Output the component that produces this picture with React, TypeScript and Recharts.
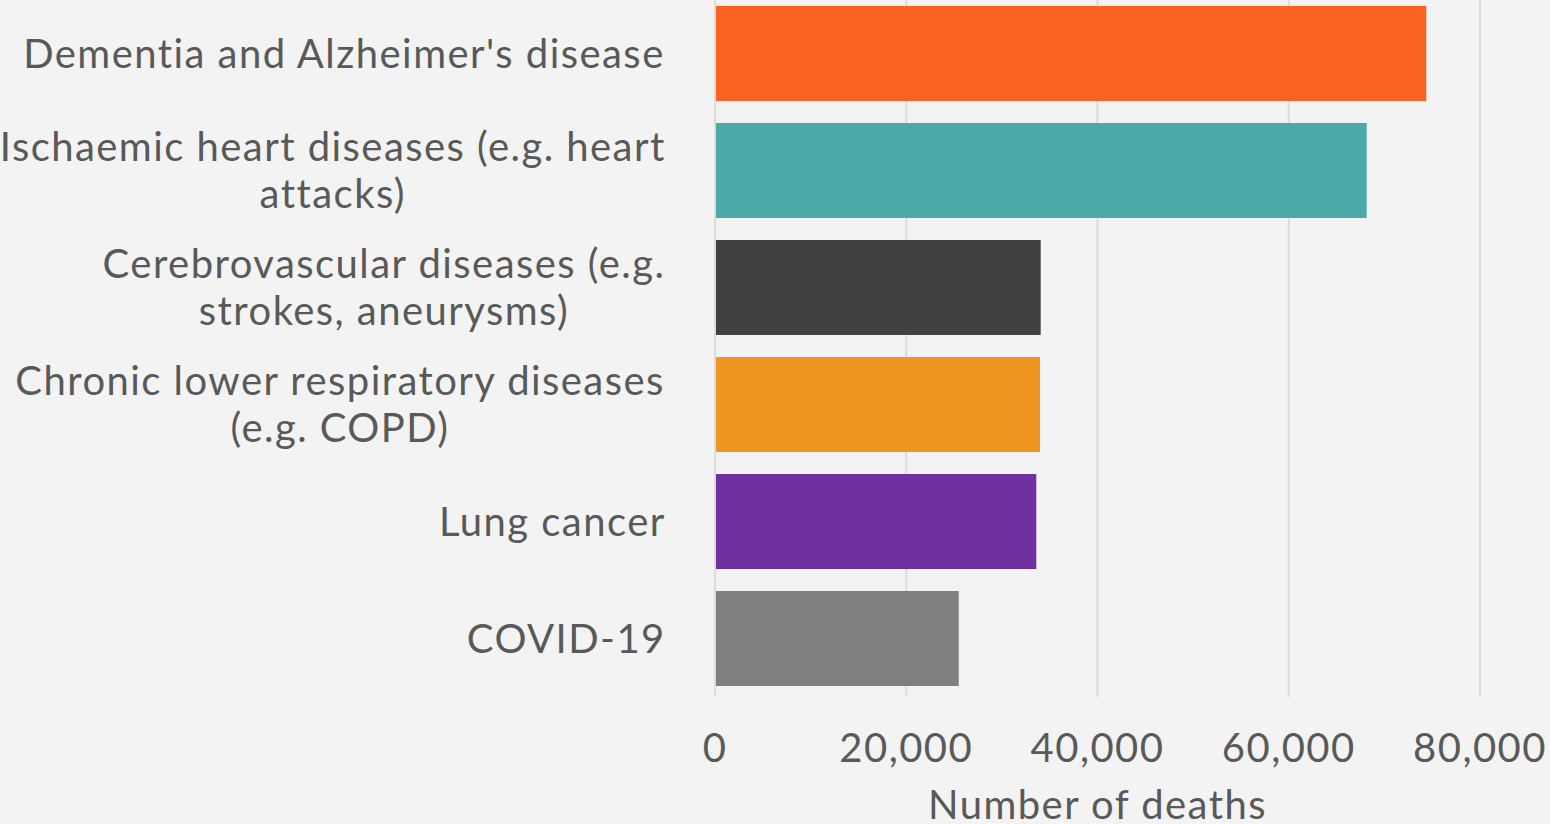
import React from "react";
import { BarChart, Bar, XAxis, YAxis, CartesianGrid, Cell, Label } from "recharts";

const categories = [
  "Dementia and Alzheimer's disease",
  "Ischaemic heart diseases (e.g. heart attacks)",
  "Cerebrovascular diseases (e.g. strokes, aneurysms)",
  "Chronic lower respiratory diseases (e.g. COPD)",
  "Lung cancer",
  "COVID-19",
];
const categoryLines = [
  ["Dementia and Alzheimer's disease"],
  ["Ischaemic heart diseases (e.g. heart", "attacks)"],
  ["Cerebrovascular diseases (e.g.", "strokes, aneurysms)"],
  ["Chronic lower respiratory diseases", "(e.g. COPD)"],
  ["Lung cancer"],
  ["COVID-19"],
];
const deaths = [74380, 68150, 34060, 33990, 33600, 25490];
const barColors = ["#F96221", "#4AAAA8", "#414143", "#F09520", "#7030A0", "#7F7F7F"];
const xTicks = [0, 20000, 40000, 60000, 80000];
const xAxisTitle = "Number of deaths";

const data = categories.map((name, i) => ({ name, deaths: deaths[i] }));

const FONT = "Lato";
const FS = 40;
const LS = 1.45;
const TEXT = "#595959";

function measure(t: string): number {
  if (typeof document === "undefined") return t.length * FS * 0.5;
  const c: any = document.createElement("canvas").getContext("2d");
  if (!c) return t.length * FS * 0.5;
  c.font = `${FS}px ${FONT}`;
  return c.measureText(t).width + Math.max(0, t.length - 1) * LS;
}

const YTick = (props: any) => {
  const { x, y, payload } = props;
  const idx = categories.indexOf(payload.value);
  const lines = idx >= 0 ? categoryLines[idx] : [String(payload.value)];
  const w = Math.max(...lines.map(measure));
  const right = x - 48;
  const cx = right - w / 2;
  const lh = 47;
  const start = y - ((lines.length - 1) * lh) / 2;
  return (
    <g>
      {lines.map((l, i) => (
        <text key={i} x={cx} y={start + i * lh} dy="0.36em" textAnchor="middle" fill={TEXT} fontSize={FS} fontFamily={FONT} letterSpacing={LS}>
          {l}
        </text>
      ))}
    </g>
  );
};

const XTick = (props: any) => {
  const { x, y, payload } = props;
  return (
    <text x={x} y={y + 49} dy="0.36em" textAnchor="middle" fill={TEXT} fontSize={FS} fontFamily={FONT} letterSpacing={LS}>
      {Number(payload.value).toLocaleString("en-GB")}
    </text>
  );
};

export default function App() {
  return (
    <div style={{ position: "absolute", left: 0, top: -5, width: 1550, height: 829, background: "#F3F3F3", overflow: "hidden" }}>
      <BarChart
        width={1550}
        height={829}
        data={data}
        layout="vertical"
        margin={{ top: 0, right: 70, bottom: 0, left: 0 }}
        barSize={95}
      >
        <CartesianGrid horizontal={false} vertical={true} stroke="#DCDCDC" strokeWidth={2} />
        <XAxis
          type="number"
          domain={[0, 80000]}
          ticks={xTicks}
          axisLine={false}
          tickLine={false}
          tickSize={0}
          height={127}
          tick={<XTick />}
          interval={0}
        >
          <Label
            content={(p: any) => {
              const vb = p.viewBox || { x: 715, y: 702, width: 765 };
              return (
                <text x={vb.x + vb.width / 2} y={vb.y + 108} dy="0.36em" textAnchor="middle" fill={TEXT} fontSize={FS} fontFamily={FONT} letterSpacing={LS}>
                  {xAxisTitle}
                </text>
              );
            }}
          />
        </XAxis>
        <YAxis
          type="category"
          dataKey="name"
          width={715}
          axisLine={{ stroke: "#DCDCDC", strokeWidth: 2 }}
          tickLine={false}
          tickSize={0}
          tick={<YTick />}
          interval={0}
        />
        <Bar dataKey="deaths" isAnimationActive={false}>
          {data.map((d, i) => (
            <Cell key={i} fill={barColors[i]} />
          ))}
        </Bar>
      </BarChart>
    </div>
  );
}
